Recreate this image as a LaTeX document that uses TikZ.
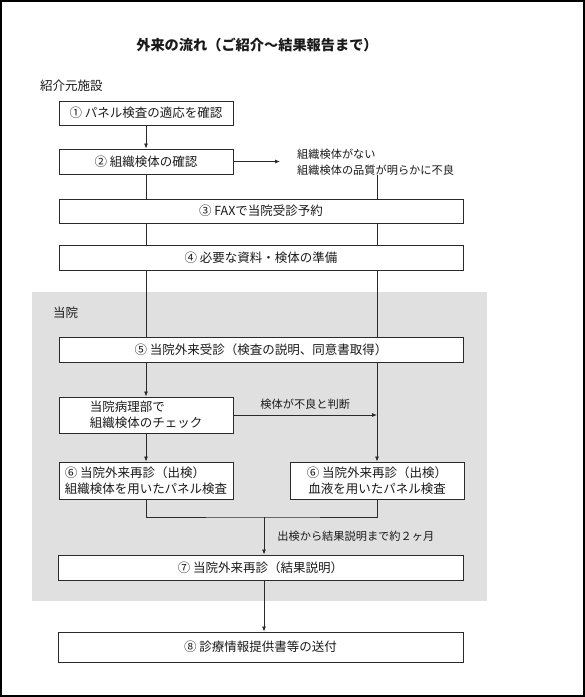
\documentclass[tikz,border=0pt]{standalone}
\usepackage{fontspec}
\newfontfamily\jp{Noto Sans CJK JP}
\usetikzlibrary{arrows.meta,calc}
\definecolor{ink}{HTML}{1A1A1A}
\definecolor{edge}{HTML}{2A2A2A}
\definecolor{zone}{HTML}{E0E0E0}
\begin{document}
\begin{tikzpicture}[x=1pt,y=-1pt,
  font=\jp,
  box/.style={draw=edge,line width=0.9pt,fill=white,inner sep=0pt,text=ink,font=\jp\fontsize{12.5}{15}\selectfont,align=center},
  lbl/.style={inner sep=0pt,text=ink,font=\jp\fontsize{11.2}{16}\selectfont},
  con/.style={draw=edge,line width=0.8pt},
  arr/.style={con,-{Latex[length=5pt,width=4pt]}}]
\useasboundingbox (0,0) rectangle (585,697);
\fill[white] (0,0) rectangle (585,697);
\draw[line width=2pt,black] (1,1) rectangle (584,696);
\fill[zone] (32,292) rectangle (487,601);

\node[inner sep=0pt,text=ink,font=\jp\bfseries\fontsize{14.2}{16}\selectfont] (title) at (257,45) {外来の流れ（ご紹介～結果報告まで）};
\node[lbl,anchor=west,font=\jp\fontsize{12.5}{14}\selectfont] (src) at (40,86) {紹介元施設};
\node[lbl,anchor=west,font=\jp\fontsize{12.5}{14}\selectfont] (hosp) at (53,313) {当院};

\node[box,minimum width=174pt,minimum height=24pt] (b1) at (146,113) {① パネル検査の適応を確認};
\node[box,minimum width=174pt,minimum height=25pt] (b2) at (146,161.5) {② 組織検体の確認};
\node[lbl,anchor=west,align=left] (ng) at (297,162) {組織検体がない\\組織検体の品質が明らかに不良};
\node[box,minimum width=404pt,minimum height=24pt] (b3) at (261,211) {③ FAXで当院受診予約};
\node[box,minimum width=404pt,minimum height=25pt] (b4) at (261,257.5) {④ 必要な資料・検体の準備};
\node[box,minimum width=404pt,minimum height=25pt] (b5) at (261,349.5) {⑤ 当院外来受診（検査の説明、同意書取得）};
\node[box,minimum width=174pt,minimum height=36pt,align=left,font=\jp\fontsize{12.5}{16}\selectfont] (chk) at (146,415) {当院病理部で\\組織検体のチェック};
\node[box,minimum width=174pt,minimum height=37pt,align=left,font=\jp\fontsize{12.5}{16.5}\selectfont] (l6) at (146,480.5) {⑥ 当院外来再診（出検）\\組織検体を用いたパネル検査};
\node[box,minimum width=174pt,minimum height=37pt,font=\jp\fontsize{12.5}{16.5}\selectfont] (r6) at (377,480.5) {⑥ 当院外来再診（出検）\\血液を用いたパネル検査};
\node[box,minimum width=405pt,minimum height=25pt] (b7) at (260.5,567.5) {⑦ 当院外来再診（結果説明）};
\node[box,minimum width=405pt,minimum height=30pt] (b8) at (260.5,647) {⑧ 診療情報提供書等の送付};
\coordinate (m) at (264,517);

% left chain
\draw[arr] (b1) -- (b2);
\draw[con] (b2) -- (b2.south |- b3.north);
\draw[con] (b3.south -| b2) -- (b4.north -| b2);
\draw[con] (b4.south -| b2) -- (b5.north -| b2);
\draw[arr] (b5.south -| chk) -- (chk);
\draw[arr] (chk) -- (l6);
% right chain
\draw[arr,shorten >=17pt] (b2.east) -- (b2.east -| ng.west);
\draw[con] (ng.south -| r6) -- (b3.north -| r6);
\draw[con] (b3.south -| r6) -- (b4.north -| r6);
\draw[con] (b4.south -| r6) -- (b5.north -| r6);
\draw[arr] (b5.south -| r6) -- (r6);
\draw[arr] (chk.east) -- (chk.east -| r6) node[lbl,midway,above=5pt] (bad) {検体が不良と判断};
% merge
\draw[con] (l6.south) |- (m) -| (r6.south);
\draw[arr] (m) -- (m |- b7.north) node[lbl,pos=0.5,anchor=west,xshift=13pt] (dur) {出検から結果説明まで約２ヶ月};
\draw[arr] (b7.south -| m) -- (b8.north -| m);
\end{tikzpicture}
\end{document}
